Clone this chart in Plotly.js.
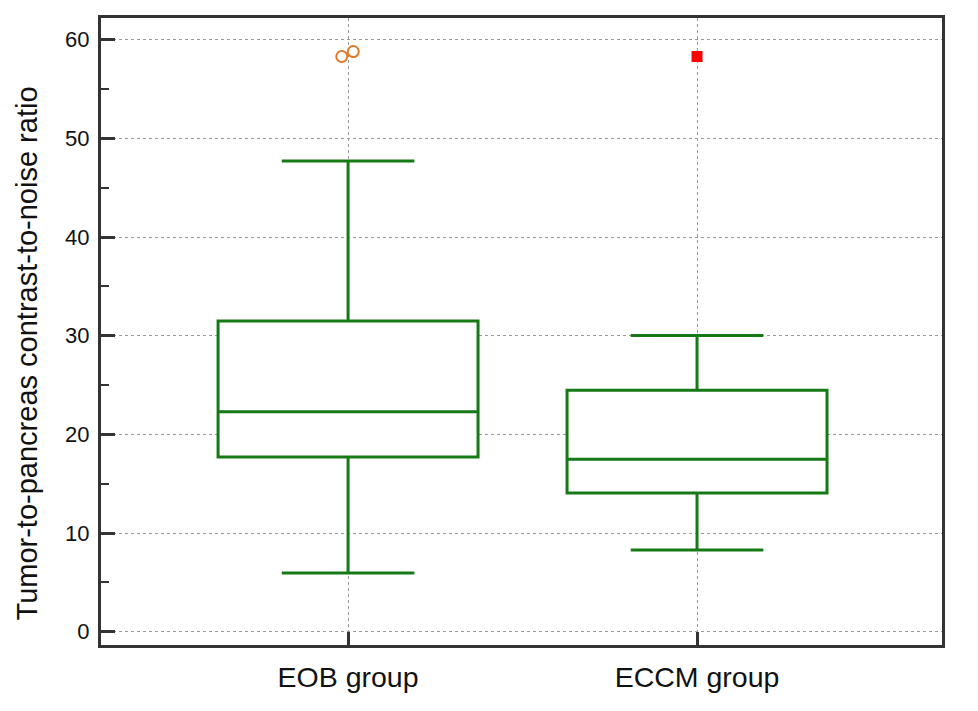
<!DOCTYPE html>
<html>
<head>
<meta charset="utf-8">
<script src="https://cdn.plot.ly/plotly-3.0.1.min.js"></script>
<style>html,body{margin:0;padding:0;background:#fff;}#chart{width:978px;height:711px;}</style>
</head>
<body>
<div id="chart"></div>
<script>
// Data
var groups = ["EOB group", "ECCM group"];
var groupPos = [0, 1];
var lowerWhisker = [5.95, 8.28];
var q1 = [17.7, 14.05];
var median = [22.3, 17.47];
var q3 = [31.5, 24.46];
var upperWhisker = [47.7, 30.03];

var eobOutlierX = [-0.018, 0.015];
var eobOutlierY = [58.3, 58.8];
var eccmOutlierX = [1];
var eccmOutlierY = [58.3];

var yTicks = [0, 10, 20, 30, 40, 50, 60];
var yTitle = 'Tumor-to-pancreas contrast-to-noise ratio';

var green = '#157a15';
var traces = [];
for (var i = 0; i < groups.length; i++) {
  traces.push({
    type: 'box',
    name: groups[i],
    x: [groupPos[i]],
    q1: [q1[i]],
    median: [median[i]],
    q3: [q3[i]],
    lowerfence: [lowerWhisker[i]],
    upperfence: [upperWhisker[i]],
    boxpoints: false,
    width: 0.745,
    whiskerwidth: 0.51,
    fillcolor: 'white',
    line: {color: green, width: 3},
    hoverinfo: 'skip'
  });
}
traces.push({
  type: 'scatter', mode: 'markers', x: eobOutlierX, y: eobOutlierY,
  marker: {symbol: 'circle-open', size: 11, color: '#e07a25', line: {width: 2, color: '#e07a25'}},
  hoverinfo: 'skip'
});
traces.push({
  type: 'scatter', mode: 'markers', x: eccmOutlierX, y: eccmOutlierY,
  marker: {symbol: 'square', size: 11, color: '#ff0000'},
  hoverinfo: 'skip'
});

var axisColor = '#333333';
var layout = {
  width: 978, height: 711,
  margin: {l: 101, r: 36, t: 18, b: 66},
  paper_bgcolor: 'white', plot_bgcolor: 'white',
  showlegend: false,
  font: {family: 'Liberation Sans, Arial, sans-serif', color: '#111'},
  xaxis: {
    range: [-0.708, 1.702],
    tickvals: groupPos, ticktext: groups,
    ticks: 'inside', ticklen: 13, tickwidth: 3, tickcolor: axisColor,
    showline: true, linecolor: axisColor, linewidth: 3, mirror: true,
    showgrid: true, gridcolor: '#999', gridwidth: 1, griddash: 'dot',
    zeroline: false,
    tickfont: {size: 28.5, color: '#111'},
    ticklabelstandoff: 5
  },
  yaxis: {
    range: [-1.35, 62.2],
    tickvals: yTicks,
    ticks: 'inside', ticklen: 14, tickwidth: 3, tickcolor: axisColor,
    minor: {dtick: 5, tick0: 0, ticks: 'inside', ticklen: 8, tickwidth: 2, tickcolor: axisColor, showgrid: false},
    showline: true, linecolor: axisColor, linewidth: 3, mirror: true,
    showgrid: true, gridcolor: '#999', gridwidth: 1, griddash: 'dot',
    zeroline: false,
    tickfont: {size: 22, color: '#111'},
    ticklabelstandoff: 4
  },
  annotations: [{
    text: yTitle, textangle: -90, showarrow: false,
    xref: 'paper', yref: 'paper', x: -0.0874, y: 0.4657,
    xanchor: 'center', yanchor: 'middle',
    font: {size: 29, color: '#111'}
  }]
};
Plotly.newPlot('chart', traces, layout, {staticPlot: true, displayModeBar: false});
</script>
</body>
</html>
